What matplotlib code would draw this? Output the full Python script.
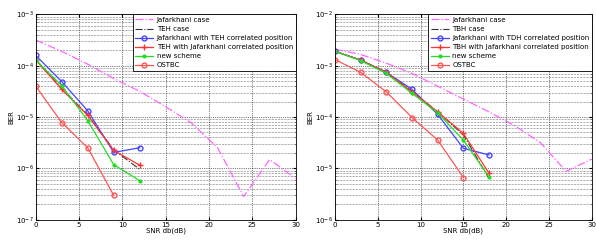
import numpy as np
import matplotlib
matplotlib.use("Agg")
import matplotlib.pyplot as plt

# SNR points (dB)
snr_full = [0, 3, 6, 9, 12, 15, 18, 21, 24, 27, 30]

# left panel (log10 BER)
l_snr = [0, 3, 6, 9, 12]
l_jaf_case = [-3.50, -3.72, -3.97, -4.25, -4.50, -4.80, -5.12, -5.60, -6.55, -5.83, -6.20]
l_teh_case = [-3.88, -4.44, -4.96, -5.64, -6.02]
l_jaf_teh = [-3.80, -4.31, -4.88, -5.69, -5.60]
l_teh_jaf = [-3.89, -4.46, -4.97, -5.65, -5.94]
l_new = [-3.89, -4.39, -5.07, -5.93, -6.24]
l_ostbc_snr = [0, 3, 6, 9]
l_ostbc = [-4.40, -5.11, -5.60, -6.53]

# right panel (log10 BER)
r_snr = [0, 3, 6, 9, 12, 15, 18]
r_jaf_case = [-2.68, -2.78, -2.95, -3.15, -3.40, -3.65, -3.90, -4.17, -4.50, -5.06, -4.82]
r_teh_case = [-2.72, -2.89, -3.13, -3.50, -3.90, -4.35, -5.20]
r_jaf_teh = [-2.72, -2.89, -3.13, -3.46, -3.95, -4.61, -4.74]
r_teh_jaf = [-2.72, -2.89, -3.13, -3.51, -3.90, -4.32, -5.10]
r_new = [-2.72, -2.90, -3.15, -3.54, -3.92, -4.45, -5.17]
r_ostbc_snr = [0, 3, 6, 9, 12, 15]
r_ostbc = [-2.88, -3.13, -3.51, -4.01, -4.45, -5.18]

left_labels = ['Jafarkhani case', 'TEH case', 'Jafarkhani with TEH correlated position',
               'TEH with Jafarkhani correlated position', 'new scheme', 'OSTBC']
right_labels = ['Jafarkhani case', 'TBH case', 'Jafarkhani with TDH correlated position',
                'TBH with Jafarkhani correlated position', 'new scheme', 'OSTBC']

fs = 5.0
fig = plt.figure(figsize=(5.96, 2.40), dpi=100)
ax1 = fig.add_axes([0.060, 0.085, 0.436, 0.855])
ax2 = fig.add_axes([0.562, 0.085, 0.431, 0.855])


def draw(ax, jc, tc, tsnr, jt, tj, nw, snr, osnr, os_, ylim, labels):
    p = lambda v: 10.0 ** np.array(v)
    ax.semilogy(snr_full, p(jc), color='#ff66ff', ls='-.', lw=0.9, label=labels[0])
    ax.semilogy(tsnr, p(tc), color='#333333', ls='-.', lw=0.8, label=labels[1])
    ax.semilogy(snr, p(jt), color='#4444ff', marker='o', ms=3.5, mfc='none', lw=0.9, label=labels[2])
    ax.semilogy(snr, p(tj), color='#ff3333', marker='+', ms=4, lw=0.9, label=labels[3])
    ax.semilogy(snr, p(nw), color='#22dd22', marker='.', ms=4, lw=0.9, label=labels[4])
    ax.semilogy(osnr, p(os_), color='#ff5555', marker='o', ms=3.5, mfc='none', lw=0.9, label=labels[5])
    ax.set_xlim(0, 30)
    ax.set_ylim(*ylim)
    ax.set_xticks([0, 5, 10, 15, 20, 25, 30])
    ax.grid(True, which='major', color='black', ls=':', lw=0.5)
    ax.grid(True, which='minor', color='black', ls=':', lw=0.4)
    ax.tick_params(labelsize=fs, direction='in', which='both', top=True, right=True,
                   length=2, pad=1.5)
    ax.tick_params(which='minor', length=1)
    ax.set_xlabel('SNR db(dB)', fontsize=fs, labelpad=0)
    ax.set_ylabel('BER', fontsize=fs, labelpad=1)
    leg = ax.legend(loc='upper right', fontsize=fs, handlelength=2.6, borderpad=0.35,
                    labelspacing=0.45, handletextpad=0.5, fancybox=False, framealpha=1,
                    edgecolor='black', borderaxespad=0.0)
    leg.get_frame().set_linewidth(0.6)
    for s in ax.spines.values():
        s.set_linewidth(0.6)


draw(ax1, l_jaf_case, l_teh_case, l_snr, l_jaf_teh, l_teh_jaf, l_new, l_snr,
     l_ostbc_snr, l_ostbc, (1e-7, 1e-3), left_labels)
draw(ax2, r_jaf_case, r_teh_case, r_snr, r_jaf_teh, r_teh_jaf, r_new, r_snr,
     r_ostbc_snr, r_ostbc, (1e-6, 1e-2), right_labels)

fig.savefig('out.png', dpi=100)
